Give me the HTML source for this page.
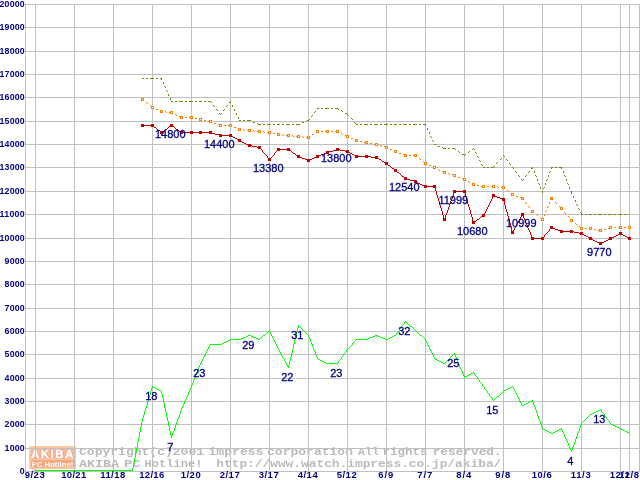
<!DOCTYPE html><html><head><meta charset="utf-8"><title>AKIBA PC Hotline! price chart</title>
<style>html,body{margin:0;padding:0;background:#fff;overflow:hidden}svg{display:block}text{font-family:"Liberation Sans",sans-serif}text.m{font-family:"Liberation Mono",monospace}</style></head><body>
<svg width="640" height="480" viewBox="0 0 640 480">
<rect width="640" height="480" fill="#fff"/>
<g id="logo">
<rect x="29" y="446" width="47" height="23" fill="#fbcaa0"/>
<rect x="31" y="448.6" width="43" height="9" fill="#f6b896"/>
<text x="31" y="457.6" font-size="11.5" font-weight="bold" fill="#f0a88a" stroke="#f0a88a" stroke-width="2.2" stroke-linejoin="round" textLength="42.3" lengthAdjust="spacing">AKIBA</text>
<text x="31" y="457.6" font-size="11.5" font-weight="bold" fill="#fff" stroke="#fff" stroke-width="0.3" textLength="42.3" lengthAdjust="spacing">AKIBA</text>
<rect x="31" y="460" width="43" height="7.5" fill="#f5a87c"/>
<text x="52.5" y="466.5" text-anchor="middle" font-size="7.5" font-weight="bold" fill="#fff" textLength="41.5" lengthAdjust="spacingAndGlyphs">PC Hotline!</text>
</g>
<g font-size="10" font-weight="bold" fill="#bababa" style="font-family:'Liberation Mono',monospace">
<text class="m" x="79.0" y="455.0" textLength="125.0" lengthAdjust="spacingAndGlyphs">Copyright(c)2001</text>
<text class="m" x="208.5" y="455.0" textLength="55.0" lengthAdjust="spacingAndGlyphs">impress</text>
<text class="m" x="267.0" y="455.0" textLength="86.0" lengthAdjust="spacingAndGlyphs">corporation</text>
<text class="m" x="358.0" y="455.0" textLength="21.0" lengthAdjust="spacingAndGlyphs">All</text>
<text class="m" x="382.5" y="455.0" textLength="45.0" lengthAdjust="spacingAndGlyphs">rights</text>
<text class="m" x="432.7" y="455.0" textLength="69.0" lengthAdjust="spacingAndGlyphs">reserved.</text>
<text class="m" x="79.0" y="467.0" textLength="40.0" lengthAdjust="spacingAndGlyphs">AKIBA</text>
<text class="m" x="124.0" y="467.0" textLength="16.5" lengthAdjust="spacingAndGlyphs">PC</text>
<text class="m" x="144.4" y="467.0" textLength="58.0" lengthAdjust="spacingAndGlyphs">Hotline!</text>
<text class="m" x="216.3" y="467.0" textLength="285.0" lengthAdjust="spacingAndGlyphs">http://www.watch.impress.co.jp/akiba/</text>
</g>
<g fill="#c0c0c0" shape-rendering="crispEdges">
<rect x="25" y="4" width="615" height="1"/>
<rect x="25" y="27" width="615" height="1"/>
<rect x="25" y="51" width="615" height="1"/>
<rect x="25" y="74" width="615" height="1"/>
<rect x="25" y="97" width="615" height="1"/>
<rect x="25" y="121" width="615" height="1"/>
<rect x="25" y="144" width="615" height="1"/>
<rect x="25" y="167" width="615" height="1"/>
<rect x="25" y="191" width="615" height="1"/>
<rect x="25" y="214" width="615" height="1"/>
<rect x="25" y="238" width="615" height="1"/>
<rect x="25" y="261" width="615" height="1"/>
<rect x="25" y="284" width="615" height="1"/>
<rect x="25" y="308" width="615" height="1"/>
<rect x="25" y="331" width="615" height="1"/>
<rect x="25" y="354" width="615" height="1"/>
<rect x="25" y="378" width="615" height="1"/>
<rect x="25" y="401" width="615" height="1"/>
<rect x="25" y="424" width="615" height="1"/>
<rect x="25" y="448" width="615" height="1"/>
<rect x="25" y="471" width="615" height="1"/>
<rect x="25" y="4" width="1" height="468"/>
<rect x="35" y="4" width="1" height="468"/>
<rect x="74" y="4" width="1" height="468"/>
<rect x="113" y="4" width="1" height="468"/>
<rect x="152" y="4" width="1" height="468"/>
<rect x="191" y="4" width="1" height="468"/>
<rect x="230" y="4" width="1" height="468"/>
<rect x="269" y="4" width="1" height="468"/>
<rect x="308" y="4" width="1" height="468"/>
<rect x="347" y="4" width="1" height="468"/>
<rect x="386" y="4" width="1" height="468"/>
<rect x="425" y="4" width="1" height="468"/>
<rect x="464" y="4" width="1" height="468"/>
<rect x="503" y="4" width="1" height="468"/>
<rect x="542" y="4" width="1" height="468"/>
<rect x="581" y="4" width="1" height="468"/>
<rect x="620" y="4" width="1" height="468"/>
<rect x="629" y="4" width="1" height="468"/>
<rect x="639" y="4" width="1" height="468"/>
</g>
<g font-size="8.8" font-weight="bold" fill="#000080" text-anchor="end">
<text x="24.6" y="7.0" textLength="25" lengthAdjust="spacing">20000</text>
<text x="24.6" y="30.0" textLength="25" lengthAdjust="spacing">19000</text>
<text x="24.6" y="54.0" textLength="25" lengthAdjust="spacing">18000</text>
<text x="24.6" y="77.0" textLength="25" lengthAdjust="spacing">17000</text>
<text x="24.6" y="100.0" textLength="25" lengthAdjust="spacing">16000</text>
<text x="24.6" y="124.0" textLength="25" lengthAdjust="spacing">15000</text>
<text x="24.6" y="147.0" textLength="25" lengthAdjust="spacing">14000</text>
<text x="24.6" y="170.0" textLength="25" lengthAdjust="spacing">13000</text>
<text x="24.6" y="194.0" textLength="25" lengthAdjust="spacing">12000</text>
<text x="24.6" y="217.0" textLength="25" lengthAdjust="spacing">11000</text>
<text x="24.6" y="241.0" textLength="25" lengthAdjust="spacing">10000</text>
<text x="24.6" y="264.0" textLength="20" lengthAdjust="spacing">9000</text>
<text x="24.6" y="287.0" textLength="20" lengthAdjust="spacing">8000</text>
<text x="24.6" y="311.0" textLength="20" lengthAdjust="spacing">7000</text>
<text x="24.6" y="334.0" textLength="20" lengthAdjust="spacing">6000</text>
<text x="24.6" y="357.0" textLength="20" lengthAdjust="spacing">5000</text>
<text x="24.6" y="381.0" textLength="20" lengthAdjust="spacing">4000</text>
<text x="24.6" y="404.0" textLength="20" lengthAdjust="spacing">3000</text>
<text x="24.6" y="427.0" textLength="20" lengthAdjust="spacing">2000</text>
<text x="24.6" y="451.0" textLength="20" lengthAdjust="spacing">1000</text>
<text x="24.6" y="474.0" textLength="5" lengthAdjust="spacing">0</text>
</g>
<g font-size="9.5" font-weight="bold" fill="#000080" text-anchor="middle">
<text x="34.7" y="478.3" textLength="20" lengthAdjust="spacing">9/23</text>
<text x="73.7" y="478.3" textLength="25" lengthAdjust="spacing">10/21</text>
<text x="112.7" y="478.3" textLength="25" lengthAdjust="spacing">11/18</text>
<text x="151.7" y="478.3" textLength="25" lengthAdjust="spacing">12/16</text>
<text x="190.7" y="478.3" textLength="20" lengthAdjust="spacing">1/20</text>
<text x="229.7" y="478.3" textLength="20" lengthAdjust="spacing">2/17</text>
<text x="268.7" y="478.3" textLength="20" lengthAdjust="spacing">3/17</text>
<text x="307.7" y="478.3" textLength="20" lengthAdjust="spacing">4/14</text>
<text x="346.7" y="478.3" textLength="20" lengthAdjust="spacing">5/12</text>
<text x="385.7" y="478.3" textLength="15" lengthAdjust="spacing">6/9</text>
<text x="424.7" y="478.3" textLength="15" lengthAdjust="spacing">7/7</text>
<text x="463.7" y="478.3" textLength="15" lengthAdjust="spacing">8/4</text>
<text x="502.7" y="478.3" textLength="15" lengthAdjust="spacing">9/8</text>
<text x="541.7" y="478.3" textLength="20" lengthAdjust="spacing">10/6</text>
<text x="580.7" y="478.3" textLength="20" lengthAdjust="spacing">11/3</text>
<text x="619.7" y="478.3" textLength="20" lengthAdjust="spacing">12/1</text>
<text x="629" y="478.3" textLength="20" lengthAdjust="spacing">12/8</text>
</g>
<path fill="#00ff00" shape-rendering="crispEdges" d="M405 321h1v1h-1zM404 322h1v1h-1zM406 322h1v1h-1zM404 323h1v1h-1zM407 323h1v1h-1zM403 324h1v1h-1zM408 324h1v1h-1zM298 325h1v1h-1zM402 325h1v1h-1zM409 325h1v1h-1zM298 326h2v1h-2zM401 326h1v1h-1zM410 326h2v1h-2zM298 327h1v1h-1zM300 327h1v1h-1zM401 327h1v1h-1zM412 327h1v1h-1zM297 328h1v1h-1zM301 328h1v1h-1zM400 328h1v1h-1zM413 328h1v1h-1zM297 329h1v1h-1zM302 329h1v1h-1zM399 329h1v1h-1zM414 329h1v1h-1zM269 330h1v1h-1zM297 330h1v1h-1zM303 330h1v1h-1zM399 330h1v1h-1zM415 330h1v1h-1zM268 331h2v1h-2zM297 331h1v1h-1zM304 331h1v1h-1zM398 331h1v1h-1zM416 331h1v1h-1zM267 332h1v1h-1zM270 332h1v1h-1zM296 332h1v1h-1zM305 332h1v1h-1zM397 332h1v1h-1zM417 332h1v1h-1zM266 333h1v1h-1zM270 333h1v1h-1zM296 333h1v1h-1zM306 333h1v1h-1zM396 333h1v1h-1zM418 333h1v1h-1zM265 334h1v1h-1zM271 334h1v1h-1zM296 334h1v1h-1zM307 334h1v1h-1zM396 334h1v1h-1zM419 334h1v1h-1zM248 335h3v1h-3zM263 335h2v1h-2zM271 335h1v1h-1zM296 335h1v1h-1zM308 335h1v1h-1zM375 335h3v1h-3zM394 335h2v1h-2zM420 335h2v1h-2zM246 336h2v1h-2zM251 336h2v1h-2zM262 336h1v1h-1zM272 336h1v1h-1zM295 336h1v1h-1zM308 336h1v1h-1zM373 336h2v1h-2zM378 336h2v1h-2zM392 336h2v1h-2zM422 336h1v1h-1zM243 337h3v1h-3zM253 337h3v1h-3zM261 337h1v1h-1zM272 337h1v1h-1zM295 337h1v1h-1zM309 337h1v1h-1zM370 337h3v1h-3zM380 337h3v1h-3zM390 337h2v1h-2zM423 337h1v1h-1zM241 338h2v1h-2zM256 338h2v1h-2zM260 338h1v1h-1zM273 338h1v1h-1zM295 338h1v1h-1zM309 338h1v1h-1zM368 338h2v1h-2zM383 338h2v1h-2zM388 338h2v1h-2zM424 338h1v1h-1zM230 339h11v1h-11zM258 339h2v1h-2zM273 339h1v1h-1zM295 339h1v1h-1zM310 339h1v1h-1zM356 339h12v1h-12zM385 339h3v1h-3zM425 339h1v1h-1zM228 340h2v1h-2zM274 340h1v1h-1zM294 340h1v1h-1zM310 340h1v1h-1zM355 340h1v1h-1zM425 340h1v1h-1zM226 341h2v1h-2zM274 341h1v1h-1zM294 341h1v1h-1zM310 341h1v1h-1zM354 341h1v1h-1zM426 341h1v1h-1zM224 342h2v1h-2zM275 342h1v1h-1zM294 342h1v1h-1zM311 342h1v1h-1zM353 342h1v1h-1zM426 342h1v1h-1zM222 343h2v1h-2zM275 343h1v1h-1zM294 343h1v1h-1zM311 343h1v1h-1zM352 343h1v1h-1zM427 343h1v1h-1zM210 344h12v1h-12zM276 344h1v1h-1zM293 344h1v1h-1zM312 344h1v1h-1zM352 344h1v1h-1zM427 344h1v1h-1zM209 345h1v1h-1zM276 345h1v1h-1zM293 345h1v1h-1zM312 345h1v1h-1zM351 345h1v1h-1zM428 345h1v1h-1zM209 346h1v1h-1zM277 346h1v1h-1zM293 346h1v1h-1zM312 346h1v1h-1zM350 346h1v1h-1zM428 346h1v1h-1zM208 347h1v1h-1zM277 347h1v1h-1zM293 347h1v1h-1zM313 347h1v1h-1zM349 347h1v1h-1zM429 347h1v1h-1zM208 348h1v1h-1zM278 348h1v1h-1zM293 348h1v1h-1zM313 348h1v1h-1zM348 348h1v1h-1zM429 348h1v1h-1zM207 349h1v1h-1zM278 349h1v1h-1zM292 349h1v1h-1zM313 349h1v1h-1zM347 349h1v1h-1zM430 349h1v1h-1zM207 350h1v1h-1zM279 350h1v1h-1zM292 350h1v1h-1zM314 350h1v1h-1zM346 350h1v1h-1zM430 350h1v1h-1zM206 351h1v1h-1zM279 351h1v1h-1zM292 351h1v1h-1zM314 351h1v1h-1zM346 351h1v1h-1zM431 351h1v1h-1zM206 352h1v1h-1zM280 352h1v1h-1zM292 352h1v1h-1zM315 352h1v1h-1zM345 352h1v1h-1zM431 352h1v1h-1zM205 353h1v1h-1zM280 353h1v1h-1zM291 353h1v1h-1zM315 353h1v1h-1zM344 353h1v1h-1zM432 353h1v1h-1zM454 353h1v1h-1zM205 354h1v1h-1zM281 354h1v1h-1zM291 354h1v1h-1zM315 354h1v1h-1zM343 354h1v1h-1zM432 354h1v1h-1zM453 354h2v1h-2zM204 355h1v1h-1zM281 355h1v1h-1zM291 355h1v1h-1zM316 355h1v1h-1zM343 355h1v1h-1zM433 355h1v1h-1zM452 355h1v1h-1zM455 355h1v1h-1zM204 356h1v1h-1zM282 356h1v1h-1zM291 356h1v1h-1zM316 356h1v1h-1zM342 356h1v1h-1zM433 356h1v1h-1zM451 356h1v1h-1zM455 356h1v1h-1zM203 357h1v1h-1zM282 357h1v1h-1zM290 357h1v1h-1zM317 357h1v1h-1zM341 357h1v1h-1zM434 357h1v1h-1zM450 357h1v1h-1zM456 357h1v1h-1zM203 358h1v1h-1zM283 358h1v1h-1zM290 358h1v1h-1zM317 358h1v1h-1zM341 358h1v1h-1zM434 358h1v1h-1zM449 358h1v1h-1zM456 358h1v1h-1zM202 359h1v1h-1zM284 359h1v1h-1zM290 359h1v1h-1zM318 359h2v1h-2zM340 359h1v1h-1zM435 359h2v1h-2zM448 359h1v1h-1zM457 359h1v1h-1zM202 360h1v1h-1zM284 360h1v1h-1zM290 360h1v1h-1zM320 360h2v1h-2zM339 360h1v1h-1zM437 360h2v1h-2zM447 360h1v1h-1zM457 360h1v1h-1zM201 361h1v1h-1zM285 361h1v1h-1zM289 361h1v1h-1zM322 361h2v1h-2zM338 361h1v1h-1zM439 361h2v1h-2zM446 361h1v1h-1zM457 361h1v1h-1zM201 362h1v1h-1zM285 362h1v1h-1zM289 362h1v1h-1zM324 362h2v1h-2zM338 362h1v1h-1zM441 362h2v1h-2zM445 362h1v1h-1zM458 362h1v1h-1zM200 363h1v1h-1zM286 363h1v1h-1zM289 363h1v1h-1zM326 363h12v1h-12zM443 363h2v1h-2zM458 363h1v1h-1zM200 364h1v1h-1zM286 364h1v1h-1zM289 364h1v1h-1zM459 364h1v1h-1zM199 365h1v1h-1zM287 365h2v1h-2zM459 365h1v1h-1zM199 366h1v1h-1zM287 366h2v1h-2zM459 366h1v1h-1zM198 367h1v1h-1zM288 367h1v1h-1zM460 367h1v1h-1zM198 368h1v1h-1zM460 368h1v1h-1zM198 369h1v1h-1zM461 369h1v1h-1zM197 370h1v1h-1zM461 370h1v1h-1zM197 371h1v1h-1zM462 371h1v1h-1zM196 372h1v1h-1zM462 372h1v1h-1zM473 372h1v1h-1zM196 373h1v1h-1zM462 373h1v1h-1zM471 373h2v1h-2zM474 373h1v1h-1zM196 374h1v1h-1zM463 374h1v1h-1zM469 374h2v1h-2zM474 374h1v1h-1zM195 375h1v1h-1zM463 375h1v1h-1zM467 375h2v1h-2zM475 375h1v1h-1zM195 376h1v1h-1zM464 376h3v1h-3zM476 376h1v1h-1zM195 377h1v1h-1zM464 377h1v1h-1zM477 377h1v1h-1zM194 378h1v1h-1zM477 378h1v1h-1zM194 379h1v1h-1zM478 379h1v1h-1zM193 380h1v1h-1zM479 380h1v1h-1zM193 381h1v1h-1zM479 381h1v1h-1zM193 382h1v1h-1zM480 382h1v1h-1zM192 383h1v1h-1zM481 383h1v1h-1zM192 384h1v1h-1zM482 384h1v1h-1zM191 385h1v1h-1zM482 385h1v1h-1zM152 386h1v1h-1zM191 386h1v1h-1zM483 386h1v1h-1zM512 386h1v1h-1zM152 387h3v1h-3zM191 387h1v1h-1zM484 387h1v1h-1zM510 387h2v1h-2zM513 387h1v1h-1zM151 388h1v1h-1zM155 388h2v1h-2zM190 388h1v1h-1zM484 388h1v1h-1zM508 388h2v1h-2zM513 388h1v1h-1zM151 389h1v1h-1zM157 389h2v1h-2zM190 389h1v1h-1zM485 389h1v1h-1zM506 389h2v1h-2zM514 389h1v1h-1zM151 390h1v1h-1zM159 390h2v1h-2zM189 390h1v1h-1zM486 390h1v1h-1zM504 390h2v1h-2zM514 390h1v1h-1zM150 391h1v1h-1zM161 391h1v1h-1zM189 391h1v1h-1zM487 391h1v1h-1zM503 391h1v1h-1zM515 391h1v1h-1zM150 392h1v1h-1zM161 392h1v1h-1zM188 392h1v1h-1zM487 392h1v1h-1zM502 392h1v1h-1zM515 392h1v1h-1zM150 393h1v1h-1zM161 393h1v1h-1zM188 393h1v1h-1zM488 393h1v1h-1zM501 393h1v1h-1zM516 393h1v1h-1zM150 394h1v1h-1zM162 394h1v1h-1zM188 394h1v1h-1zM489 394h1v1h-1zM500 394h1v1h-1zM516 394h1v1h-1zM149 395h1v1h-1zM162 395h1v1h-1zM187 395h1v1h-1zM489 395h1v1h-1zM499 395h1v1h-1zM517 395h1v1h-1zM149 396h1v1h-1zM162 396h1v1h-1zM187 396h1v1h-1zM490 396h1v1h-1zM497 396h2v1h-2zM517 396h1v1h-1zM149 397h1v1h-1zM162 397h1v1h-1zM186 397h1v1h-1zM491 397h1v1h-1zM496 397h1v1h-1zM518 397h1v1h-1zM148 398h1v1h-1zM163 398h1v1h-1zM186 398h1v1h-1zM492 398h1v1h-1zM495 398h1v1h-1zM518 398h1v1h-1zM148 399h1v1h-1zM163 399h1v1h-1zM185 399h1v1h-1zM492 399h1v1h-1zM494 399h1v1h-1zM519 399h1v1h-1zM148 400h1v1h-1zM163 400h1v1h-1zM185 400h1v1h-1zM493 400h1v1h-1zM519 400h1v1h-1zM532 400h1v1h-1zM147 401h1v1h-1zM163 401h1v1h-1zM184 401h1v1h-1zM520 401h1v1h-1zM530 401h3v1h-3zM147 402h1v1h-1zM163 402h1v1h-1zM184 402h1v1h-1zM520 402h1v1h-1zM528 402h2v1h-2zM533 402h1v1h-1zM147 403h1v1h-1zM164 403h1v1h-1zM184 403h1v1h-1zM521 403h1v1h-1zM526 403h2v1h-2zM533 403h1v1h-1zM147 404h1v1h-1zM164 404h1v1h-1zM183 404h1v1h-1zM521 404h1v1h-1zM524 404h2v1h-2zM533 404h1v1h-1zM146 405h1v1h-1zM164 405h1v1h-1zM183 405h1v1h-1zM522 405h2v1h-2zM534 405h1v1h-1zM146 406h1v1h-1zM164 406h1v1h-1zM182 406h1v1h-1zM534 406h1v1h-1zM146 407h1v1h-1zM164 407h1v1h-1zM182 407h1v1h-1zM535 407h1v1h-1zM145 408h1v1h-1zM165 408h1v1h-1zM181 408h1v1h-1zM535 408h1v1h-1zM145 409h1v1h-1zM165 409h1v1h-1zM181 409h1v1h-1zM535 409h1v1h-1zM600 409h1v1h-1zM145 410h1v1h-1zM165 410h1v1h-1zM181 410h1v1h-1zM536 410h1v1h-1zM598 410h2v1h-2zM601 410h1v1h-1zM144 411h1v1h-1zM165 411h1v1h-1zM180 411h1v1h-1zM536 411h1v1h-1zM596 411h2v1h-2zM601 411h1v1h-1zM144 412h1v1h-1zM166 412h1v1h-1zM180 412h1v1h-1zM536 412h1v1h-1zM594 412h2v1h-2zM602 412h1v1h-1zM144 413h1v1h-1zM166 413h1v1h-1zM180 413h1v1h-1zM537 413h1v1h-1zM592 413h2v1h-2zM603 413h1v1h-1zM144 414h1v1h-1zM166 414h1v1h-1zM179 414h1v1h-1zM537 414h1v1h-1zM590 414h2v1h-2zM604 414h1v1h-1zM143 415h1v1h-1zM166 415h1v1h-1zM179 415h1v1h-1zM537 415h1v1h-1zM589 415h1v1h-1zM604 415h1v1h-1zM143 416h1v1h-1zM166 416h1v1h-1zM179 416h1v1h-1zM538 416h1v1h-1zM588 416h1v1h-1zM605 416h1v1h-1zM143 417h1v1h-1zM167 417h1v1h-1zM178 417h1v1h-1zM538 417h1v1h-1zM587 417h1v1h-1zM606 417h1v1h-1zM142 418h1v1h-1zM167 418h1v1h-1zM178 418h1v1h-1zM538 418h1v1h-1zM586 418h1v1h-1zM606 418h1v1h-1zM142 419h1v1h-1zM167 419h1v1h-1zM177 419h1v1h-1zM539 419h1v1h-1zM585 419h1v1h-1zM607 419h1v1h-1zM142 420h1v1h-1zM167 420h1v1h-1zM177 420h1v1h-1zM539 420h1v1h-1zM584 420h1v1h-1zM608 420h1v1h-1zM142 421h1v1h-1zM168 421h1v1h-1zM177 421h1v1h-1zM540 421h1v1h-1zM583 421h1v1h-1zM609 421h1v1h-1zM141 422h1v1h-1zM168 422h1v1h-1zM176 422h1v1h-1zM540 422h1v1h-1zM582 422h1v1h-1zM609 422h1v1h-1zM141 423h1v1h-1zM168 423h1v1h-1zM176 423h1v1h-1zM540 423h1v1h-1zM581 423h1v1h-1zM610 423h1v1h-1zM141 424h1v1h-1zM168 424h1v1h-1zM176 424h1v1h-1zM541 424h1v1h-1zM581 424h1v1h-1zM611 424h2v1h-2zM141 425h1v1h-1zM168 425h1v1h-1zM175 425h1v1h-1zM541 425h1v1h-1zM580 425h1v1h-1zM613 425h2v1h-2zM141 426h1v1h-1zM169 426h1v1h-1zM175 426h1v1h-1zM541 426h1v1h-1zM580 426h1v1h-1zM615 426h2v1h-2zM140 427h1v1h-1zM169 427h1v1h-1zM175 427h1v1h-1zM542 427h1v1h-1zM580 427h1v1h-1zM617 427h2v1h-2zM140 428h1v1h-1zM169 428h1v1h-1zM174 428h1v1h-1zM542 428h1v1h-1zM561 428h1v1h-1zM579 428h1v1h-1zM619 428h2v1h-2zM140 429h1v1h-1zM169 429h1v1h-1zM174 429h1v1h-1zM543 429h2v1h-2zM559 429h3v1h-3zM579 429h1v1h-1zM621 429h2v1h-2zM140 430h1v1h-1zM169 430h1v1h-1zM174 430h1v1h-1zM545 430h2v1h-2zM557 430h2v1h-2zM562 430h1v1h-1zM579 430h1v1h-1zM623 430h2v1h-2zM140 431h1v1h-1zM170 431h1v1h-1zM173 431h1v1h-1zM547 431h2v1h-2zM555 431h2v1h-2zM562 431h1v1h-1zM578 431h1v1h-1zM625 431h2v1h-2zM139 432h1v1h-1zM170 432h1v1h-1zM173 432h1v1h-1zM549 432h2v1h-2zM553 432h2v1h-2zM563 432h1v1h-1zM578 432h1v1h-1zM627 432h2v1h-2zM139 433h1v1h-1zM170 433h1v1h-1zM172 433h1v1h-1zM551 433h2v1h-2zM563 433h1v1h-1zM577 433h1v1h-1zM629 433h1v1h-1zM139 434h1v1h-1zM170 434h1v1h-1zM172 434h1v1h-1zM564 434h1v1h-1zM577 434h1v1h-1zM139 435h1v1h-1zM171 435h2v1h-2zM564 435h1v1h-1zM577 435h1v1h-1zM139 436h1v1h-1zM171 436h1v1h-1zM564 436h1v1h-1zM576 436h1v1h-1zM138 437h1v1h-1zM171 437h1v1h-1zM565 437h1v1h-1zM576 437h1v1h-1zM138 438h1v1h-1zM565 438h1v1h-1zM576 438h1v1h-1zM138 439h1v1h-1zM566 439h1v1h-1zM575 439h1v1h-1zM138 440h1v1h-1zM566 440h1v1h-1zM575 440h1v1h-1zM138 441h1v1h-1zM567 441h1v1h-1zM575 441h1v1h-1zM137 442h1v1h-1zM567 442h1v1h-1zM574 442h1v1h-1zM137 443h1v1h-1zM568 443h1v1h-1zM574 443h1v1h-1zM137 444h1v1h-1zM568 444h1v1h-1zM574 444h1v1h-1zM137 445h1v1h-1zM568 445h1v1h-1zM573 445h1v1h-1zM137 446h1v1h-1zM569 446h1v1h-1zM573 446h1v1h-1zM137 447h1v1h-1zM569 447h1v1h-1zM572 447h1v1h-1zM136 448h1v1h-1zM570 448h1v1h-1zM572 448h1v1h-1zM136 449h1v1h-1zM570 449h1v1h-1zM572 449h1v1h-1zM136 450h1v1h-1zM571 450h1v1h-1zM136 451h1v1h-1zM571 451h1v1h-1zM136 452h1v1h-1zM135 453h1v1h-1zM135 454h1v1h-1zM135 455h1v1h-1zM135 456h1v1h-1zM135 457h1v1h-1zM134 458h1v1h-1zM134 459h1v1h-1zM134 460h1v1h-1zM134 461h1v1h-1zM134 462h1v1h-1zM133 463h1v1h-1zM133 464h1v1h-1zM133 465h1v1h-1zM133 466h1v1h-1zM133 467h1v1h-1zM132 468h1v1h-1zM132 469h1v1h-1zM35 470h98v1h-98z"/>
<path fill="#808000" shape-rendering="crispEdges" d="M142 78h2v1h-2zM146 78h2v1h-2zM150 78h4v1h-4zM156 78h2v1h-2zM160 78h2v1h-2zM161 79h1v1h-1zM163 82h1v1h-1zM163 83h1v1h-1zM164 86h1v1h-1zM165 87h1v1h-1zM166 90h1v1h-1zM167 91h1v1h-1zM168 94h1v1h-1zM168 95h1v1h-1zM170 98h1v1h-1zM170 99h1v1h-1zM171 101h2v1h-2zM175 101h2v1h-2zM179 101h4v1h-4zM185 101h2v1h-2zM189 101h4v1h-4zM195 101h2v1h-2zM199 101h3v1h-3zM204 101h2v1h-2zM208 101h3v1h-3zM230 101h1v1h-1zM211 102h1v1h-1zM229 102h2v1h-2zM213 105h1v1h-1zM227 105h1v1h-1zM232 105h1v1h-1zM214 106h1v1h-1zM226 106h1v1h-1zM232 106h1v1h-1zM317 108h2v1h-2zM321 108h2v1h-2zM325 108h4v1h-4zM331 108h2v1h-2zM335 108h3v1h-3zM216 109h1v1h-1zM224 109h1v1h-1zM234 109h1v1h-1zM338 109h1v1h-1zM217 110h1v1h-1zM223 110h1v1h-1zM234 110h1v1h-1zM341 110h1v1h-1zM315 111h1v1h-1zM342 111h1v1h-1zM314 112h1v1h-1zM219 113h1v1h-1zM221 113h1v1h-1zM236 113h1v1h-1zM345 113h2v1h-2zM220 114h1v1h-1zM236 114h1v1h-1zM347 114h1v1h-1zM312 115h1v1h-1zM348 115h1v1h-1zM311 116h1v1h-1zM238 117h1v1h-1zM238 118h1v1h-1zM351 118h1v1h-1zM309 119h1v1h-1zM352 119h1v1h-1zM239 120h2v1h-2zM243 120h2v1h-2zM247 120h4v1h-4zM307 120h2v1h-2zM306 121h1v1h-1zM253 122h2v1h-2zM302 122h2v1h-2zM354 122h1v1h-1zM257 123h1v1h-1zM355 123h1v1h-1zM258 124h3v1h-3zM263 124h2v1h-2zM267 124h4v1h-4zM273 124h2v1h-2zM277 124h3v1h-3zM282 124h2v1h-2zM286 124h4v1h-4zM292 124h2v1h-2zM296 124h4v1h-4zM356 124h2v1h-2zM360 124h2v1h-2zM364 124h4v1h-4zM370 124h2v1h-2zM374 124h4v1h-4zM380 124h2v1h-2zM384 124h4v1h-4zM390 124h2v1h-2zM394 124h3v1h-3zM399 124h2v1h-2zM403 124h4v1h-4zM409 124h2v1h-2zM413 124h4v1h-4zM419 124h2v1h-2zM423 124h3v1h-3zM425 125h1v1h-1zM427 128h1v1h-1zM427 129h1v1h-1zM429 132h1v1h-1zM429 133h1v1h-1zM430 136h1v1h-1zM431 137h1v1h-1zM432 140h1v1h-1zM433 141h1v1h-1zM434 144h2v1h-2zM438 146h2v1h-2zM442 147h1v1h-1zM443 148h3v1h-3zM448 148h2v1h-2zM452 148h3v1h-3zM473 148h1v1h-1zM455 149h1v1h-1zM472 149h1v1h-1zM474 149h1v1h-1zM458 151h1v1h-1zM469 151h1v1h-1zM459 152h1v1h-1zM468 152h1v1h-1zM475 152h1v1h-1zM476 153h1v1h-1zM462 154h2v1h-2zM465 154h1v1h-1zM464 155h1v1h-1zM503 155h1v1h-1zM477 156h1v1h-1zM504 156h1v1h-1zM478 157h1v1h-1zM501 158h1v1h-1zM500 159h1v1h-1zM506 159h1v1h-1zM479 160h1v1h-1zM507 160h1v1h-1zM480 161h1v1h-1zM497 162h1v1h-1zM496 163h1v1h-1zM509 163h1v1h-1zM481 164h1v1h-1zM510 164h1v1h-1zM482 165h1v1h-1zM494 166h1v1h-1zM483 167h2v1h-2zM487 167h2v1h-2zM491 167h3v1h-3zM512 167h1v1h-1zM532 167h1v1h-1zM551 167h2v1h-2zM555 167h2v1h-2zM559 167h3v1h-3zM513 168h1v1h-1zM531 168h2v1h-2zM551 168h1v1h-1zM561 168h1v1h-1zM515 171h1v1h-1zM529 171h1v1h-1zM534 171h1v1h-1zM550 171h1v1h-1zM563 171h1v1h-1zM516 172h1v1h-1zM528 172h1v1h-1zM534 172h1v1h-1zM549 172h1v1h-1zM563 172h1v1h-1zM518 175h1v1h-1zM526 175h1v1h-1zM535 175h1v1h-1zM548 175h1v1h-1zM564 175h1v1h-1zM519 176h1v1h-1zM525 176h1v1h-1zM536 176h1v1h-1zM548 176h1v1h-1zM565 176h1v1h-1zM521 179h1v1h-1zM523 179h1v1h-1zM537 179h1v1h-1zM547 179h1v1h-1zM566 179h1v1h-1zM522 180h1v1h-1zM537 180h1v1h-1zM546 180h1v1h-1zM566 180h1v1h-1zM538 183h1v1h-1zM545 183h1v1h-1zM567 183h1v1h-1zM539 184h1v1h-1zM545 184h1v1h-1zM568 184h1v1h-1zM540 187h1v1h-1zM544 187h1v1h-1zM569 187h1v1h-1zM540 188h1v1h-1zM543 188h1v1h-1zM569 188h1v1h-1zM542 191h1v1h-1zM571 191h1v1h-1zM542 192h1v1h-1zM571 192h1v1h-1zM571 193h1v1h-1zM573 196h1v1h-1zM573 197h1v1h-1zM575 200h1v1h-1zM575 201h1v1h-1zM576 204h1v1h-1zM577 205h1v1h-1zM578 208h1v1h-1zM579 209h1v1h-1zM580 212h1v1h-1zM581 213h1v1h-1zM581 214h2v1h-2zM585 214h2v1h-2zM589 214h3v1h-3zM594 214h2v1h-2zM598 214h4v1h-4zM604 214h2v1h-2zM608 214h4v1h-4zM614 214h2v1h-2zM618 214h4v1h-4zM624 214h2v1h-2zM628 214h1v1h-1z"/>
<path fill="#ff8000" shape-rendering="crispEdges" d="M146 102h1v1h-1zM147 103h1v1h-1zM150 105h1v1h-1zM156 109h2v1h-2zM165 111h1v1h-1zM166 112h1v1h-1zM169 112h1v1h-1zM175 114h1v1h-1zM176 115h1v1h-1zM179 116h1v1h-1zM185 117h2v1h-2zM189 117h1v1h-1zM195 118h2v1h-2zM204 120h2v1h-2zM208 121h1v1h-1zM214 123h2v1h-2zM218 124h1v1h-1zM224 125h2v1h-2zM228 125h1v1h-1zM234 127h2v1h-2zM243 129h1v1h-1zM244 130h1v1h-1zM247 130h1v1h-1zM253 130h1v1h-1zM254 131h1v1h-1zM257 131h1v1h-1zM263 131h1v1h-1zM321 131h2v1h-2zM325 131h1v1h-1zM331 131h2v1h-2zM335 131h1v1h-1zM264 132h1v1h-1zM267 132h1v1h-1zM273 133h2v1h-2zM341 133h1v1h-1zM282 134h1v1h-1zM312 134h2v1h-2zM342 134h1v1h-1zM283 135h1v1h-1zM286 135h1v1h-1zM292 135h1v1h-1zM345 135h1v1h-1zM293 136h1v1h-1zM296 136h1v1h-1zM302 136h1v1h-1zM303 137h1v1h-1zM306 137h1v1h-1zM351 138h2v1h-2zM360 141h2v1h-2zM364 142h1v1h-1zM370 143h2v1h-2zM374 144h1v1h-1zM380 145h1v1h-1zM381 146h1v1h-1zM384 146h1v1h-1zM390 149h2v1h-2zM399 153h2v1h-2zM403 154h1v1h-1zM409 155h2v1h-2zM413 155h1v1h-1zM419 158h1v1h-1zM420 159h1v1h-1zM423 161h1v1h-1zM429 165h2v1h-2zM438 169h1v1h-1zM439 170h1v1h-1zM442 171h1v1h-1zM448 173h1v1h-1zM449 174h1v1h-1zM452 174h1v1h-1zM458 177h2v1h-2zM462 178h1v1h-1zM468 181h1v1h-1zM469 182h1v1h-1zM477 185h2v1h-2zM481 186h1v1h-1zM487 186h2v1h-2zM491 186h1v1h-1zM497 186h1v1h-1zM498 187h1v1h-1zM501 187h1v1h-1zM507 190h1v1h-1zM508 191h1v1h-1zM516 196h2v1h-2zM520 197h1v1h-1zM525 202h1v1h-1zM549 202h1v1h-1zM555 202h1v1h-1zM526 203h1v1h-1zM549 203h1v1h-1zM556 203h1v1h-1zM528 206h1v1h-1zM548 206h1v1h-1zM559 206h1v1h-1zM529 207h1v1h-1zM547 207h1v1h-1zM546 210h1v1h-1zM545 211h1v1h-1zM564 212h1v1h-1zM565 213h1v1h-1zM536 214h1v1h-1zM544 214h1v1h-1zM537 215h1v1h-1zM544 215h1v1h-1zM568 216h1v1h-1zM540 217h1v1h-1zM569 217h1v1h-1zM575 223h1v1h-1zM576 224h1v1h-1zM579 226h1v1h-1zM614 227h2v1h-2zM618 227h1v1h-1zM624 227h2v1h-2zM585 228h2v1h-2zM608 228h1v1h-1zM594 229h2v1h-2zM604 229h2v1h-2zM598 230h1v1h-1z"/>
<g shape-rendering="crispEdges">
<rect x="141" y="98" width="3" height="3" fill="#ff8000"/>
<rect x="142" y="99" width="1" height="1" fill="#fff"/>
<rect x="151" y="106" width="3" height="3" fill="#ff8000"/>
<rect x="152" y="107" width="1" height="1" fill="#fff"/>
<rect x="160" y="110" width="3" height="3" fill="#ff8000"/>
<rect x="161" y="111" width="1" height="1" fill="#fff"/>
<rect x="170" y="111" width="3" height="3" fill="#ff8000"/>
<rect x="171" y="112" width="1" height="1" fill="#fff"/>
<rect x="180" y="116" width="3" height="3" fill="#ff8000"/>
<rect x="181" y="117" width="1" height="1" fill="#fff"/>
<rect x="190" y="116" width="3" height="3" fill="#ff8000"/>
<rect x="191" y="117" width="1" height="1" fill="#fff"/>
<rect x="199" y="118" width="3" height="3" fill="#ff8000"/>
<rect x="200" y="119" width="1" height="1" fill="#fff"/>
<rect x="209" y="120" width="3" height="3" fill="#ff8000"/>
<rect x="210" y="121" width="1" height="1" fill="#fff"/>
<rect x="219" y="124" width="3" height="3" fill="#ff8000"/>
<rect x="220" y="125" width="1" height="1" fill="#fff"/>
<rect x="229" y="124" width="3" height="3" fill="#ff8000"/>
<rect x="230" y="125" width="1" height="1" fill="#fff"/>
<rect x="238" y="128" width="3" height="3" fill="#ff8000"/>
<rect x="239" y="129" width="1" height="1" fill="#fff"/>
<rect x="248" y="129" width="3" height="3" fill="#ff8000"/>
<rect x="249" y="130" width="1" height="1" fill="#fff"/>
<rect x="258" y="130" width="3" height="3" fill="#ff8000"/>
<rect x="259" y="131" width="1" height="1" fill="#fff"/>
<rect x="268" y="131" width="3" height="3" fill="#ff8000"/>
<rect x="269" y="132" width="1" height="1" fill="#fff"/>
<rect x="277" y="133" width="3" height="3" fill="#ff8000"/>
<rect x="278" y="134" width="1" height="1" fill="#fff"/>
<rect x="287" y="134" width="3" height="3" fill="#ff8000"/>
<rect x="288" y="135" width="1" height="1" fill="#fff"/>
<rect x="297" y="135" width="3" height="3" fill="#ff8000"/>
<rect x="298" y="136" width="1" height="1" fill="#fff"/>
<rect x="307" y="136" width="3" height="3" fill="#ff8000"/>
<rect x="308" y="137" width="1" height="1" fill="#fff"/>
<rect x="316" y="130" width="3" height="3" fill="#ff8000"/>
<rect x="317" y="131" width="1" height="1" fill="#fff"/>
<rect x="326" y="130" width="3" height="3" fill="#ff8000"/>
<rect x="327" y="131" width="1" height="1" fill="#fff"/>
<rect x="336" y="130" width="3" height="3" fill="#ff8000"/>
<rect x="337" y="131" width="1" height="1" fill="#fff"/>
<rect x="346" y="135" width="3" height="3" fill="#ff8000"/>
<rect x="347" y="136" width="1" height="1" fill="#fff"/>
<rect x="355" y="139" width="3" height="3" fill="#ff8000"/>
<rect x="356" y="140" width="1" height="1" fill="#fff"/>
<rect x="365" y="141" width="3" height="3" fill="#ff8000"/>
<rect x="366" y="142" width="1" height="1" fill="#fff"/>
<rect x="375" y="143" width="3" height="3" fill="#ff8000"/>
<rect x="376" y="144" width="1" height="1" fill="#fff"/>
<rect x="385" y="146" width="3" height="3" fill="#ff8000"/>
<rect x="386" y="147" width="1" height="1" fill="#fff"/>
<rect x="394" y="150" width="3" height="3" fill="#ff8000"/>
<rect x="395" y="151" width="1" height="1" fill="#fff"/>
<rect x="404" y="154" width="3" height="3" fill="#ff8000"/>
<rect x="405" y="155" width="1" height="1" fill="#fff"/>
<rect x="414" y="154" width="3" height="3" fill="#ff8000"/>
<rect x="415" y="155" width="1" height="1" fill="#fff"/>
<rect x="424" y="162" width="3" height="3" fill="#ff8000"/>
<rect x="425" y="163" width="1" height="1" fill="#fff"/>
<rect x="433" y="166" width="3" height="3" fill="#ff8000"/>
<rect x="434" y="167" width="1" height="1" fill="#fff"/>
<rect x="443" y="171" width="3" height="3" fill="#ff8000"/>
<rect x="444" y="172" width="1" height="1" fill="#fff"/>
<rect x="453" y="174" width="3" height="3" fill="#ff8000"/>
<rect x="454" y="175" width="1" height="1" fill="#fff"/>
<rect x="463" y="178" width="3" height="3" fill="#ff8000"/>
<rect x="464" y="179" width="1" height="1" fill="#fff"/>
<rect x="472" y="183" width="3" height="3" fill="#ff8000"/>
<rect x="473" y="184" width="1" height="1" fill="#fff"/>
<rect x="482" y="185" width="3" height="3" fill="#ff8000"/>
<rect x="483" y="186" width="1" height="1" fill="#fff"/>
<rect x="492" y="185" width="3" height="3" fill="#ff8000"/>
<rect x="493" y="186" width="1" height="1" fill="#fff"/>
<rect x="502" y="186" width="3" height="3" fill="#ff8000"/>
<rect x="503" y="187" width="1" height="1" fill="#fff"/>
<rect x="511" y="193" width="3" height="3" fill="#ff8000"/>
<rect x="512" y="194" width="1" height="1" fill="#fff"/>
<rect x="521" y="197" width="3" height="3" fill="#ff8000"/>
<rect x="522" y="198" width="1" height="1" fill="#fff"/>
<rect x="531" y="210" width="3" height="3" fill="#ff8000"/>
<rect x="532" y="211" width="1" height="1" fill="#fff"/>
<rect x="541" y="218" width="3" height="3" fill="#ff8000"/>
<rect x="542" y="219" width="1" height="1" fill="#fff"/>
<rect x="550" y="197" width="3" height="3" fill="#ff8000"/>
<rect x="560" y="207" width="3" height="3" fill="#ff8000"/>
<rect x="561" y="208" width="1" height="1" fill="#fff"/>
<rect x="570" y="219" width="3" height="3" fill="#ff8000"/>
<rect x="571" y="220" width="1" height="1" fill="#fff"/>
<rect x="580" y="227" width="3" height="3" fill="#ff8000"/>
<rect x="581" y="228" width="1" height="1" fill="#fff"/>
<rect x="589" y="227" width="3" height="3" fill="#ff8000"/>
<rect x="590" y="228" width="1" height="1" fill="#fff"/>
<rect x="599" y="229" width="3" height="3" fill="#ff8000"/>
<rect x="600" y="230" width="1" height="1" fill="#fff"/>
<rect x="609" y="226" width="3" height="3" fill="#ff8000"/>
<rect x="610" y="227" width="1" height="1" fill="#fff"/>
<rect x="619" y="226" width="3" height="3" fill="#ff8000"/>
<rect x="620" y="227" width="1" height="1" fill="#fff"/>
<rect x="628" y="226" width="3" height="3" fill="#ff8000"/>
<rect x="629" y="227" width="1" height="1" fill="#fff"/>
</g>
<path fill="#c00000" shape-rendering="crispEdges" d="M142 125h11v1h-11zM171 125h1v1h-1zM153 126h1v1h-1zM169 126h2v1h-2zM172 126h2v1h-2zM154 127h2v1h-2zM168 127h1v1h-1zM174 127h1v1h-1zM156 128h1v1h-1zM167 128h1v1h-1zM175 128h1v1h-1zM157 129h1v1h-1zM165 129h2v1h-2zM176 129h2v1h-2zM158 130h2v1h-2zM164 130h1v1h-1zM178 130h1v1h-1zM160 131h1v1h-1zM162 131h2v1h-2zM179 131h2v1h-2zM161 132h1v1h-1zM181 132h31v1h-31zM212 133h3v1h-3zM215 134h4v1h-4zM219 135h12v1h-12zM231 136h2v1h-2zM233 137h2v1h-2zM235 138h2v1h-2zM237 139h2v1h-2zM239 140h1v1h-1zM240 141h2v1h-2zM242 142h2v1h-2zM244 143h2v1h-2zM246 144h2v1h-2zM248 145h4v1h-4zM252 146h5v1h-5zM257 147h3v1h-3zM260 148h1v1h-1zM261 149h1v1h-1zM278 149h11v1h-11zM336 149h4v1h-4zM262 150h1v1h-1zM277 150h1v1h-1zM289 150h2v1h-2zM333 150h3v1h-3zM340 150h5v1h-5zM262 151h1v1h-1zM276 151h1v1h-1zM291 151h1v1h-1zM329 151h4v1h-4zM345 151h3v1h-3zM263 152h1v1h-1zM275 152h1v1h-1zM292 152h1v1h-1zM326 152h3v1h-3zM348 152h2v1h-2zM264 153h1v1h-1zM274 153h1v1h-1zM293 153h2v1h-2zM324 153h2v1h-2zM350 153h2v1h-2zM265 154h1v1h-1zM274 154h1v1h-1zM295 154h1v1h-1zM321 154h3v1h-3zM352 154h2v1h-2zM266 155h1v1h-1zM273 155h1v1h-1zM296 155h2v1h-2zM319 155h2v1h-2zM354 155h2v1h-2zM267 156h1v1h-1zM272 156h1v1h-1zM298 156h2v1h-2zM316 156h3v1h-3zM356 156h15v1h-15zM267 157h1v1h-1zM271 157h1v1h-1zM300 157h2v1h-2zM314 157h2v1h-2zM371 157h6v1h-6zM268 158h1v1h-1zM270 158h1v1h-1zM302 158h3v1h-3zM312 158h2v1h-2zM377 158h2v1h-2zM269 159h1v1h-1zM305 159h2v1h-2zM310 159h2v1h-2zM379 159h2v1h-2zM307 160h3v1h-3zM381 160h1v1h-1zM382 161h2v1h-2zM384 162h2v1h-2zM386 163h1v1h-1zM387 164h1v1h-1zM388 165h2v1h-2zM390 166h1v1h-1zM391 167h1v1h-1zM392 168h2v1h-2zM394 169h1v1h-1zM395 170h1v1h-1zM396 171h1v1h-1zM397 172h2v1h-2zM399 173h1v1h-1zM400 174h1v1h-1zM401 175h1v1h-1zM402 176h2v1h-2zM404 177h1v1h-1zM405 178h2v1h-2zM407 179h3v1h-3zM410 180h4v1h-4zM414 181h2v1h-2zM416 182h2v1h-2zM418 183h2v1h-2zM420 184h2v1h-2zM422 185h2v1h-2zM424 186h11v1h-11zM434 187h1v1h-1zM435 188h1v1h-1zM435 189h1v1h-1zM435 190h1v1h-1zM436 191h1v1h-1zM454 191h11v1h-11zM436 192h1v1h-1zM454 192h1v1h-1zM464 192h1v1h-1zM436 193h1v1h-1zM453 193h1v1h-1zM465 193h1v1h-1zM436 194h1v1h-1zM453 194h1v1h-1zM465 194h1v1h-1zM437 195h1v1h-1zM453 195h1v1h-1zM465 195h1v1h-1zM493 195h2v1h-2zM437 196h1v1h-1zM452 196h1v1h-1zM465 196h1v1h-1zM493 196h1v1h-1zM495 196h2v1h-2zM437 197h1v1h-1zM452 197h1v1h-1zM466 197h1v1h-1zM492 197h1v1h-1zM497 197h3v1h-3zM438 198h1v1h-1zM452 198h1v1h-1zM466 198h1v1h-1zM492 198h1v1h-1zM500 198h2v1h-2zM438 199h1v1h-1zM451 199h1v1h-1zM466 199h1v1h-1zM491 199h1v1h-1zM502 199h2v1h-2zM438 200h1v1h-1zM451 200h1v1h-1zM467 200h1v1h-1zM491 200h1v1h-1zM503 200h1v1h-1zM439 201h1v1h-1zM450 201h1v1h-1zM467 201h1v1h-1zM490 201h1v1h-1zM504 201h1v1h-1zM439 202h1v1h-1zM450 202h1v1h-1zM467 202h1v1h-1zM490 202h1v1h-1zM504 202h1v1h-1zM439 203h1v1h-1zM450 203h1v1h-1zM467 203h1v1h-1zM489 203h1v1h-1zM504 203h1v1h-1zM439 204h1v1h-1zM449 204h1v1h-1zM468 204h1v1h-1zM489 204h1v1h-1zM504 204h1v1h-1zM440 205h1v1h-1zM449 205h1v1h-1zM468 205h1v1h-1zM488 205h1v1h-1zM505 205h1v1h-1zM440 206h1v1h-1zM449 206h1v1h-1zM468 206h1v1h-1zM488 206h1v1h-1zM505 206h1v1h-1zM440 207h1v1h-1zM448 207h1v1h-1zM469 207h1v1h-1zM487 207h1v1h-1zM505 207h1v1h-1zM441 208h1v1h-1zM448 208h1v1h-1zM469 208h1v1h-1zM487 208h1v1h-1zM505 208h1v1h-1zM441 209h1v1h-1zM448 209h1v1h-1zM469 209h1v1h-1zM486 209h1v1h-1zM506 209h1v1h-1zM441 210h1v1h-1zM447 210h1v1h-1zM470 210h1v1h-1zM486 210h1v1h-1zM506 210h1v1h-1zM442 211h1v1h-1zM447 211h1v1h-1zM470 211h1v1h-1zM485 211h1v1h-1zM506 211h1v1h-1zM442 212h1v1h-1zM447 212h1v1h-1zM470 212h1v1h-1zM485 212h1v1h-1zM507 212h1v1h-1zM442 213h1v1h-1zM446 213h1v1h-1zM470 213h1v1h-1zM484 213h1v1h-1zM507 213h1v1h-1zM442 214h1v1h-1zM446 214h1v1h-1zM471 214h1v1h-1zM484 214h1v1h-1zM507 214h1v1h-1zM522 214h1v1h-1zM443 215h1v1h-1zM445 215h1v1h-1zM471 215h1v1h-1zM483 215h1v1h-1zM507 215h1v1h-1zM521 215h2v1h-2zM443 216h1v1h-1zM445 216h1v1h-1zM471 216h1v1h-1zM481 216h2v1h-2zM508 216h1v1h-1zM521 216h1v1h-1zM523 216h1v1h-1zM443 217h1v1h-1zM445 217h1v1h-1zM472 217h1v1h-1zM480 217h1v1h-1zM508 217h1v1h-1zM520 217h1v1h-1zM523 217h1v1h-1zM444 218h1v1h-1zM472 218h1v1h-1zM479 218h1v1h-1zM508 218h1v1h-1zM520 218h1v1h-1zM524 218h1v1h-1zM444 219h1v1h-1zM472 219h1v1h-1zM477 219h2v1h-2zM508 219h1v1h-1zM519 219h1v1h-1zM524 219h1v1h-1zM472 220h1v1h-1zM476 220h1v1h-1zM509 220h1v1h-1zM519 220h1v1h-1zM525 220h1v1h-1zM473 221h3v1h-3zM509 221h1v1h-1zM518 221h1v1h-1zM525 221h1v1h-1zM473 222h1v1h-1zM509 222h1v1h-1zM518 222h1v1h-1zM525 222h1v1h-1zM510 223h1v1h-1zM517 223h1v1h-1zM526 223h1v1h-1zM510 224h1v1h-1zM516 224h1v1h-1zM526 224h1v1h-1zM510 225h1v1h-1zM516 225h1v1h-1zM527 225h1v1h-1zM510 226h1v1h-1zM515 226h1v1h-1zM527 226h1v1h-1zM511 227h1v1h-1zM515 227h1v1h-1zM527 227h1v1h-1zM551 227h2v1h-2zM511 228h1v1h-1zM514 228h1v1h-1zM528 228h1v1h-1zM550 228h1v1h-1zM553 228h2v1h-2zM511 229h1v1h-1zM514 229h1v1h-1zM528 229h1v1h-1zM549 229h1v1h-1zM555 229h3v1h-3zM511 230h1v1h-1zM513 230h1v1h-1zM529 230h1v1h-1zM549 230h1v1h-1zM558 230h2v1h-2zM512 231h2v1h-2zM529 231h1v1h-1zM548 231h1v1h-1zM560 231h14v1h-14zM512 232h1v1h-1zM530 232h1v1h-1zM547 232h1v1h-1zM574 232h5v1h-5zM530 233h1v1h-1zM546 233h1v1h-1zM579 233h3v1h-3zM620 233h1v1h-1zM530 234h1v1h-1zM545 234h1v1h-1zM582 234h2v1h-2zM618 234h2v1h-2zM621 234h2v1h-2zM531 235h1v1h-1zM544 235h1v1h-1zM584 235h2v1h-2zM616 235h2v1h-2zM623 235h2v1h-2zM531 236h1v1h-1zM544 236h1v1h-1zM586 236h2v1h-2zM614 236h2v1h-2zM625 236h2v1h-2zM532 237h1v1h-1zM543 237h1v1h-1zM588 237h2v1h-2zM612 237h2v1h-2zM627 237h2v1h-2zM532 238h11v1h-11zM590 238h1v1h-1zM610 238h2v1h-2zM629 238h1v1h-1zM591 239h2v1h-2zM608 239h2v1h-2zM593 240h2v1h-2zM606 240h2v1h-2zM595 241h2v1h-2zM604 241h2v1h-2zM597 242h2v1h-2zM602 242h2v1h-2zM599 243h3v1h-3z"/>
<g fill="#c00000" shape-rendering="crispEdges">
<rect x="141" y="124" width="3" height="3"/>
<rect x="151" y="124" width="3" height="3"/>
<rect x="160" y="131" width="3" height="3"/>
<rect x="170" y="124" width="3" height="3"/>
<rect x="180" y="131" width="3" height="3"/>
<rect x="190" y="131" width="3" height="3"/>
<rect x="199" y="131" width="3" height="3"/>
<rect x="209" y="131" width="3" height="3"/>
<rect x="219" y="134" width="3" height="3"/>
<rect x="229" y="134" width="3" height="3"/>
<rect x="238" y="139" width="3" height="3"/>
<rect x="248" y="144" width="3" height="3"/>
<rect x="258" y="146" width="3" height="3"/>
<rect x="268" y="158" width="3" height="3"/>
<rect x="277" y="148" width="3" height="3"/>
<rect x="287" y="148" width="3" height="3"/>
<rect x="297" y="155" width="3" height="3"/>
<rect x="307" y="159" width="3" height="3"/>
<rect x="316" y="155" width="3" height="3"/>
<rect x="326" y="151" width="3" height="3"/>
<rect x="336" y="148" width="3" height="3"/>
<rect x="346" y="150" width="3" height="3"/>
<rect x="355" y="155" width="3" height="3"/>
<rect x="365" y="155" width="3" height="3"/>
<rect x="375" y="156" width="3" height="3"/>
<rect x="385" y="162" width="3" height="3"/>
<rect x="394" y="169" width="3" height="3"/>
<rect x="404" y="177" width="3" height="3"/>
<rect x="414" y="180" width="3" height="3"/>
<rect x="424" y="185" width="3" height="3"/>
<rect x="433" y="185" width="3" height="3"/>
<rect x="443" y="218" width="3" height="3"/>
<rect x="453" y="190" width="3" height="3"/>
<rect x="463" y="190" width="3" height="3"/>
<rect x="472" y="221" width="3" height="3"/>
<rect x="482" y="214" width="3" height="3"/>
<rect x="492" y="194" width="3" height="3"/>
<rect x="502" y="198" width="3" height="3"/>
<rect x="511" y="231" width="3" height="3"/>
<rect x="521" y="213" width="3" height="3"/>
<rect x="531" y="237" width="3" height="3"/>
<rect x="541" y="237" width="3" height="3"/>
<rect x="550" y="226" width="3" height="3"/>
<rect x="560" y="230" width="3" height="3"/>
<rect x="570" y="230" width="3" height="3"/>
<rect x="580" y="232" width="3" height="3"/>
<rect x="589" y="237" width="3" height="3"/>
<rect x="599" y="242" width="3" height="3"/>
<rect x="609" y="237" width="3" height="3"/>
<rect x="619" y="232" width="3" height="3"/>
<rect x="628" y="237" width="3" height="3"/>
</g>
<g font-size="11" fill="#000080" stroke="#000080" stroke-width="0.3" text-anchor="middle">
<text x="170.3" y="138.0">14800</text>
<text x="219.3" y="148.0">14400</text>
<text x="268.3" y="172.0">13380</text>
<text x="336.3" y="162.0">13800</text>
<text x="404.3" y="191.0">12540</text>
<text x="453.3" y="204.0">11999</text>
<text x="472.3" y="235.0">10680</text>
<text x="521.3" y="227.0">10999</text>
<text x="599.3" y="256.0">9770</text>
<text x="151.3" y="399.9">18</text>
<text x="170.3" y="451.3">7</text>
<text x="199.3" y="376.6">23</text>
<text x="248.3" y="348.6">29</text>
<text x="287.3" y="381.3">22</text>
<text x="297.3" y="339.2">31</text>
<text x="336.3" y="376.6">23</text>
<text x="404.3" y="334.6">32</text>
<text x="453.3" y="367.2">25</text>
<text x="492.3" y="413.9">15</text>
<text x="570.3" y="465.3">4</text>
<text x="599.3" y="423.3">13</text>
</g>
</svg></body></html>
